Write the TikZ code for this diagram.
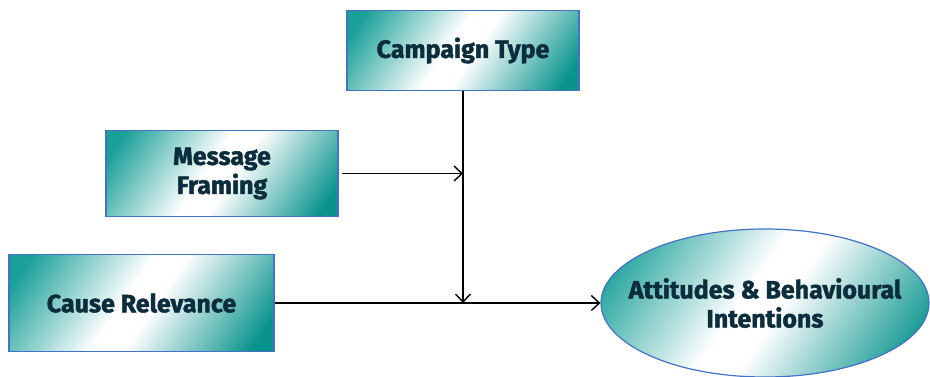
\documentclass[tikz,border=0pt]{standalone}
\usepackage{fontspec}
\setmainfont{Fira Sans}[BoldFeatures={FakeBold=1.8}]
\usetikzlibrary{arrows.meta,shapes.geometric}
\definecolor{tealA}{RGB}{26,160,153}
\definecolor{tealB}{RGB}{8,147,141}
\definecolor{edgec}{RGB}{68,114,196}
\definecolor{textc}{RGB}{12,45,60}
\pgfdeclareverticalshading{tealband}{100bp}{color(0bp)=(tealA); color(20bp)=(tealA); color(46bp)=(white); color(53bp)=(white); color(80bp)=(tealB); color(100bp)=(tealB)}
\begin{document}
\begin{tikzpicture}[x=1pt,y=-1pt,
  shade/.style={draw=edgec, line width=1.2pt, shading=tealband, shading angle=236},
  label/.style={text=textc, font=\bfseries\fontsize{25}{29}\selectfont, align=center, inner sep=0pt},
  box/.style={shade, label, rectangle},
  oval/.style={shade, label, ellipse, inner xsep=-25pt, inner ysep=0pt},
  arr/.style={line width=1.4pt, draw=black, -{Straight Barb[length=8pt,width=15pt]}}]
\useasboundingbox (0,0) rectangle (930,376);
\node[box, minimum width=232pt, minimum height=80pt] (ct) at (463,50.5) {Campaign Type};
\node[box, minimum width=232pt, minimum height=86pt] (mf) at (222,173.5) {Message\\Framing};
\node[box, minimum width=265pt, minimum height=97pt] (cr) at (141.5,303) {Cause Relevance};
\node[oval, minimum width=328pt, minimum height=148pt] (ab) at (765,303) {Attitudes \& Behavioural\\Intentions};
\coordinate (j1) at (mf.east -| ct.south);
\coordinate (j2) at (cr.east -| ct.south);
\draw[arr] (ct.south) -- (j2);
\draw[arr, shorten <=3pt] (mf.east) -- (j1);
\draw[arr] (cr.east) -- (ab.west);
\end{tikzpicture}
\end{document}
